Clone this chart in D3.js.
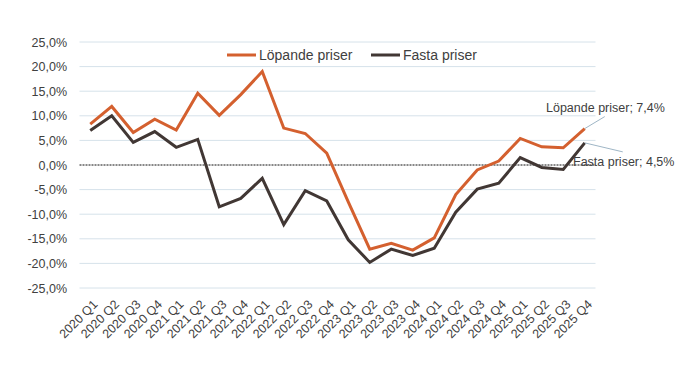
<!DOCTYPE html>
<html><head><meta charset="utf-8">
<script src="https://cdn.jsdelivr.net/npm/d3@7"></script>
<style>body{margin:0;background:#fff}svg text{font-family:"Liberation Sans",Arial,sans-serif}</style>
</head><body><svg id="c" width="698" height="392"></svg>
<script>
const categories = ["2020 Q1","2020 Q2","2020 Q3","2020 Q4","2021 Q1","2021 Q2","2021 Q3","2021 Q4","2022 Q1","2022 Q2","2022 Q3","2022 Q4","2023 Q1","2023 Q2","2023 Q3","2023 Q4","2024 Q1","2024 Q2","2024 Q3","2024 Q4","2025 Q1","2025 Q2","2025 Q3","2025 Q4"];
const lopande = [8.3,11.9,6.6,9.3,7.1,14.6,10.1,14.3,19.0,7.5,6.4,2.4,-7.5,-17.1,-15.9,-17.3,-14.8,-6.0,-1.0,0.8,5.4,3.7,3.5,7.4];
const fasta = [7.0,10.0,4.6,6.8,3.6,5.2,-8.5,-6.8,-2.7,-12.1,-5.2,-7.3,-15.2,-19.8,-17.1,-18.4,-16.9,-9.6,-4.9,-3.7,1.5,-0.5,-0.9,4.5];
const yTicks = [25,20,15,10,5,0,-5,-10,-15,-20,-25];
const seriesNames = ["Löpande priser","Fasta priser"];
const endLabels = ["Löpande priser; 7,4%","Fasta priser; 4,5%"];

const svg = d3.select("#c");
const x = d3.scaleBand().domain(categories).range([79.5, 595.5]);
const y = d3.scaleLinear().domain([-25, 25]).range([288, 42]);
const cx = d => x(d) + x.bandwidth()/2;
const fmt = v => d3.format(".1f")(v).replace(".", ",").replace("−","-") + "%";
const textCol = "#404040";

// gridlines
svg.append("g").selectAll("line").data(yTicks.filter(t => t !== 0)).join("line")
  .attr("x1", 79.5).attr("x2", 595.5).attr("y1", d => y(d)).attr("y2", d => y(d))
  .attr("stroke", "#d6e2ea").attr("stroke-width", 1);
// zero line
svg.append("line").attr("x1", 79.5).attr("x2", 595.5).attr("y1", y(0)).attr("y2", y(0))
  .attr("stroke", "#111").attr("stroke-width", 1).attr("stroke-dasharray", "2,1");

// y axis
const yAxis = d3.axisLeft(y).tickValues(yTicks).tickSize(0).tickPadding(0).tickFormat(fmt);
const gy = svg.append("g").attr("transform", "translate(67,0)").call(yAxis);
gy.select(".domain").remove();
gy.selectAll("text").attr("fill", textCol).style("font-size", "12.5px").attr("dx", 0);

// x axis
const xAxis = d3.axisBottom(x).tickSize(0).tickPadding(0);
const gx = svg.append("g").attr("transform", "translate(0,298)").call(xAxis);
gx.select(".domain").remove();
gx.selectAll("text").attr("fill", textCol).style("font-size", "12.5px")
  .attr("text-anchor", "end").attr("dy", "0.35em")
  .attr("transform", "translate(5,4) rotate(-45)");

// lines
const line = d3.line().x((d, i) => cx(categories[i])).y(d => y(d));
const colors = ["#d4602f", "#413734"];
[fasta, lopande].forEach((s, k) => {
  svg.append("path").datum(s).attr("d", line).attr("fill", "none")
    .attr("stroke", k === 0 ? colors[1] : colors[0]).attr("stroke-width", 3)
    .attr("stroke-linejoin", "miter").attr("stroke-linecap", "butt");
});

// legend
const leg = [{x: 227, c: colors[0], t: seriesNames[0]}, {x: 371, c: colors[1], t: seriesNames[1]}];
leg.forEach(l => {
  svg.append("line").attr("x1", l.x).attr("x2", l.x + 29).attr("y1", 55).attr("y2", 55)
    .attr("stroke", l.c).attr("stroke-width", 3);
  svg.append("text").attr("x", l.x + 32).attr("y", 60).attr("fill", textCol)
    .style("font-size", "14px").text(l.t);
});

// end labels with leader lines
const last = categories.length - 1;
const lx = cx(categories[last]);
svg.append("line").attr("x1", lx).attr("y1", y(lopande[last])).attr("x2", lx + 20).attr("y2", y(lopande[last]) - 12)
  .attr("stroke", "#9fb6c6").attr("stroke-width", 1);
svg.append("text").attr("x", 546).attr("y", 112).attr("fill", textCol).style("font-size", "12.5px").text(endLabels[0]);
svg.append("line").attr("x1", lx).attr("y1", y(fasta[last])).attr("x2", lx + 38).attr("y2", y(fasta[last]) + 9)
  .attr("stroke", "#9fb6c6").attr("stroke-width", 1);
svg.append("text").attr("x", 573).attr("y", 166).attr("fill", textCol).style("font-size", "12.5px").text(endLabels[1]);
</script></body></html>
